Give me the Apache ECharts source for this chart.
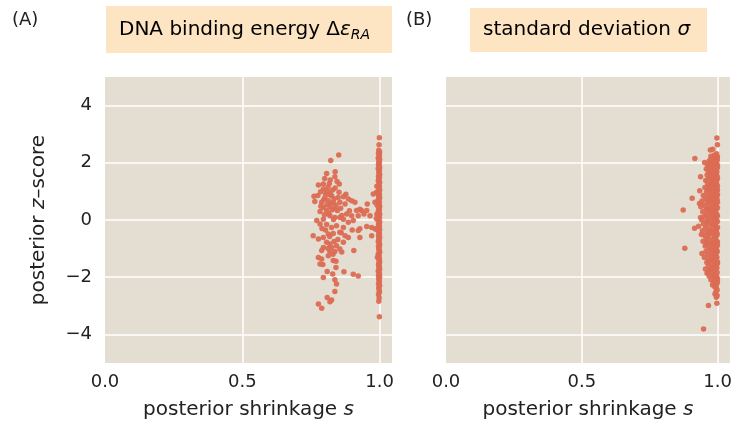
<!DOCTYPE html>
<html>
<head>
<meta charset="utf-8">
<script src="https://cdn.jsdelivr.net/npm/echarts@6/dist/echarts.min.js"></script>
<style>
  html, body { margin: 0; padding: 0; background: #fff; }
  #chart { width: 735px; height: 428px; }
</style>
</head>
<body>
<div id="chart"></div>
<script>
// panel A: points spread away from s = 1
const cloudA = [
  [0.851, 2.27], [0.822, 2.08], [0.807, 1.63], [0.838, 1.69], [0.837, 1.51], [0.853, 1.26],
  [0.777, 1.22], [0.795, 1.26], [0.817, 1.28], [0.795, 1.08], [0.785, 0.99], [0.761, 0.83],
  [0.764, 0.65], [0.807, 1.02], [0.819, 0.97], [0.825, 0.85], [0.801, 0.79], [0.813, 0.67],
  [0.831, 0.62], [0.789, 0.62], [0.795, 0.44], [0.819, 0.47], [0.837, 0.42], [0.807, 0.33],
  [0.783, 0.30], [0.849, 0.79], [0.868, 0.81], [0.855, 0.62], [0.874, 0.56], [0.886, 0.73],
  [0.898, 0.67], [0.910, 0.62], [0.928, 0.38], [0.916, 0.33], [0.934, 0.33], [0.953, 0.33],
  [0.965, 0.15], [0.955, 0.56], [0.989, 0.97], [0.977, 0.91], [0.983, 0.62], [0.943, 0.21],
  [0.922, 0.15], [0.898, 0.15], [0.880, 0.21], [0.868, 0.03], [0.855, 0.09], [0.837, 0.09],
  [0.819, 0.15], [0.795, 0.03], [0.771, -0.02], [0.783, -0.14], [0.807, -0.16], [0.825, -0.26],
  [0.843, -0.20], [0.868, -0.26], [0.886, -0.08], [0.904, -0.02], [0.928, -0.31], [0.922, -0.37],
  [0.953, -0.23], [0.971, -0.26], [0.983, -0.31], [0.758, -0.55], [0.777, -0.66], [0.795, -0.61],
  [0.813, -0.49], [0.831, -0.47], [0.855, -0.43], [0.874, -0.55], [0.886, -0.61], [0.971, -0.55],
  [0.928, -0.61], [0.807, -0.78], [0.819, -0.84], [0.843, -0.90], [0.868, -0.78], [0.825, -0.96],
  [0.795, -0.96], [0.789, -1.07], [0.819, -1.10], [0.837, -1.10], [0.855, -1.01], [0.906, -1.07],
  [0.862, -1.12], [0.777, -1.31], [0.789, -1.36], [0.813, -1.25], [0.783, -1.54], [0.793, -1.56],
  [0.831, -1.42], [0.841, -1.44], [0.841, -1.66], [0.809, -1.80], [0.829, -1.89], [0.870, -1.81],
  [0.904, -1.90], [0.922, -1.96], [0.795, -2.01], [0.837, -2.09], [0.843, -2.24], [0.837, -2.50],
  [0.809, -2.71], [0.825, -2.80], [0.819, -2.86], [0.777, -2.94], [0.789, -3.09],
  [0.812, 1.15], [0.829, 1.05], [0.803, 0.92], [0.818, 0.88], [0.834, 0.74], [0.796, 0.71],
  [0.822, 0.58], [0.808, 0.53], [0.841, 0.52], [0.827, 0.36], [0.815, 0.23], [0.799, 0.18],
  [0.832, 0.02], [0.846, 0.33], [0.858, 0.41], [0.786, 0.48], [0.775, 0.86], [0.852, 0.97],
  [0.838, 1.12], [0.862, 0.16], [0.803, -0.35], [0.818, -0.58], [0.848, -0.68], [0.834, -0.75],
  [0.790, -0.30], [0.860, -0.45], [0.877, 0.90], [0.890, 0.32], [0.900, -0.35], [0.820, 1.40],
  [0.800, 1.45], [0.845, 1.35], [0.830, -1.20], [0.812, -1.00]
];

// panel A: the strip of points sitting at s = 1
const stripA = [
  [0.999, 2.88], [0.998, 2.63], [0.997, 2.44], [1.0, 2.38], [0.996, 2.33], [0.999, 2.27],
  [0.998, 2.21], [0.995, 2.17], [1.0, 2.12], [0.997, 2.06], [0.999, 2.0], [0.996, 1.95],
  [0.998, 1.9], [1.0, 1.84], [0.995, 1.8], [0.999, 1.74], [0.997, 1.69], [0.998, 1.63],
  [1.0, 1.58], [0.996, 1.53], [0.999, 1.48], [0.997, 1.42], [0.995, 1.37], [1.0, 1.32],
  [0.998, 1.26], [0.996, 1.21], [0.999, 1.16], [0.997, 1.1], [1.0, 1.05], [0.995, 1.0],
  [0.998, 0.94], [0.999, 0.89], [0.996, 0.84], [1.0, 0.78], [0.997, 0.73], [0.994, 0.68],
  [0.999, 0.63], [0.998, 0.57], [0.996, 0.52], [1.0, 0.47], [0.997, 0.41], [0.999, 0.36],
  [0.995, 0.31], [0.998, 0.25], [1.0, 0.2], [0.996, 0.15], [0.999, 0.09], [0.997, 0.04],
  [0.994, -0.01], [1.0, -0.06], [0.998, -0.12], [0.996, -0.17], [0.999, -0.22], [0.997, -0.28],
  [1.0, -0.33], [0.995, -0.38], [0.998, -0.44], [0.999, -0.49], [0.996, -0.54], [1.0, -0.6],
  [0.997, -0.65], [0.998, -0.71], [0.995, -0.76], [0.999, -0.81], [1.0, -0.87], [0.996, -0.92],
  [0.998, -0.97], [0.997, -1.03], [0.999, -1.08], [1.0, -1.13], [0.995, -1.19], [0.998, -1.24],
  [0.996, -1.29], [0.999, -1.35], [0.997, -1.4], [1.0, -1.46], [0.998, -1.51], [0.996, -1.56],
  [0.999, -1.62], [0.997, -1.67], [1.0, -1.72], [0.995, -1.78], [0.998, -1.83], [0.999, -1.89],
  [0.996, -1.94], [1.0, -1.99], [0.997, -2.05], [0.998, -2.1], [0.999, -2.16], [0.996, -2.23],
  [1.0, -2.29], [0.997, -2.36], [0.998, -2.44], [0.999, -2.52], [0.996, -2.6], [0.998, -2.72],
  [0.997, -2.84], [0.999, -3.38],
  [0.990, 1.18], [0.991, 0.52], [0.989, -0.33], [0.992, -1.3], [0.990, 0.2], [0.988, 0.05]
];

// panel B: standard deviation, almost everything close to s = 1
const pointsB = [
  [0.997, 2.87], [0.999, 2.63], [0.973, 2.45], [0.982, 2.47], [0.916, 2.15], [0.952, 2.01],
  [0.973, 2.10], [0.937, 1.51], [0.934, 1.02], [0.906, 0.76], [0.873, 0.35], [0.933, 0.58],
  [0.915, -0.29], [0.937, 0.09], [0.940, -0.51], [0.879, -0.99], [0.942, -1.17], [0.964, -1.83],
  [0.981, -2.27], [0.990, -2.59], [0.997, -2.91], [0.966, -2.99], [0.948, -3.81], [0.995, -2.70],
  [0.998, -2.45],
  [0.996, 2.32], [0.988, 2.27], [0.999, 2.21], [0.984, 2.18], [0.975, 2.23],
  [0.993, 2.12], [0.969, 2.06], [0.986, 2.03], [0.998, 2.08],
  [0.979, 1.97], [0.962, 1.94], [0.994, 1.95], [0.987, 1.89],
  [0.971, 1.86], [0.999, 1.83], [0.958, 1.78], [0.982, 1.80], [0.992, 1.74],
  [0.966, 1.70], [0.977, 1.66], [0.997, 1.68], [0.986, 1.61],
  [0.961, 1.57], [0.973, 1.54], [0.995, 1.55], [0.984, 1.49], [0.999, 1.45],
  [0.967, 1.43], [0.956, 1.38], [0.989, 1.37], [0.978, 1.33],
  [0.996, 1.29], [0.963, 1.27], [0.985, 1.22], [0.972, 1.18], [0.999, 1.19],
  [0.953, 1.14], [0.991, 1.11], [0.968, 1.07], [0.980, 1.04],
  [0.997, 1.01], [0.959, 0.98], [0.987, 0.95], [0.974, 0.92], [0.999, 0.89],
  [0.947, 0.86], [0.965, 0.83], [0.983, 0.80], [0.993, 0.77],
  [0.955, 0.73], [0.976, 0.70], [0.998, 0.71], [0.942, 0.66], [0.988, 0.64],
  [0.962, 0.60], [0.971, 0.56], [0.995, 0.57], [0.950, 0.52], [0.983, 0.49],
  [0.938, 0.46], [0.966, 0.43], [0.999, 0.44], [0.978, 0.39], [0.957, 0.36],
  [0.990, 0.33], [0.945, 0.29], [0.970, 0.27], [0.985, 0.22], [0.997, 0.20],
  [0.960, 0.18], [0.951, 0.12], [0.979, 0.10], [0.993, 0.07], [0.968, 0.04],
  [0.941, 0.01], [0.987, -0.02], [0.958, -0.06], [0.999, -0.05], [0.975, -0.10],
  [0.948, -0.13], [0.964, -0.17], [0.991, -0.19], [0.982, -0.24], [0.930, -0.22],
  [0.955, -0.28], [0.996, -0.31], [0.971, -0.34], [0.944, -0.38], [0.986, -0.40],
  [0.962, -0.45], [0.978, -0.48], [0.998, -0.47], [0.952, -0.54], [0.989, -0.57],
  [0.967, -0.60], [0.958, -0.66], [0.981, -0.69], [0.995, -0.72], [0.946, -0.74],
  [0.973, -0.78], [0.963, -0.83], [0.987, -0.85], [0.999, -0.88], [0.954, -0.91],
  [0.978, -0.94], [0.968, -1.00], [0.992, -1.02], [0.983, -1.07], [0.957, -1.09],
  [0.997, -1.13], [0.974, -1.16], [0.962, -1.22], [0.988, -1.24], [0.979, -1.29],
  [0.951, -1.31], [0.994, -1.35], [0.969, -1.38], [0.984, -1.43], [0.999, -1.46],
  [0.960, -1.49], [0.976, -1.53], [0.990, -1.57], [0.966, -1.62], [0.983, -1.66],
  [0.997, -1.68], [0.955, -1.71], [0.972, -1.75], [0.988, -1.79], [0.961, -1.86],
  [0.980, -1.90], [0.994, -1.93], [0.969, -1.97], [0.986, -2.02], [0.999, -2.05],
  [0.975, -2.09], [0.991, -2.14], [0.984, -2.19], [0.997, -2.23], [0.989, -2.33],
  [0.995, -2.38], [0.993, -2.52], [0.998, -2.64],
  [0.998, 2.15], [0.995, 2.00], [0.999, 1.91], [0.993, 1.63], [0.998, 1.52], [0.996, 1.40],
  [0.992, 1.25], [0.999, 1.06], [0.994, 0.94], [0.997, 0.83], [0.991, 0.68], [0.999, 0.62],
  [0.994, 0.51], [0.996, 0.38], [0.992, 0.26], [0.999, 0.14], [0.995, 0.02], [0.993, -0.12],
  [0.999, -0.25], [0.994, -0.36], [0.997, -0.53], [0.992, -0.64], [0.999, -0.77], [0.995, -0.95],
  [0.998, -1.08], [0.993, -1.19], [0.997, -1.30], [0.999, -1.52], [0.994, -1.61], [0.998, -1.84],
  [0.996, -1.99], [0.999, -2.16], [0.993, -2.28],
  [0.981, 1.92], [0.978, 1.72], [0.983, 1.41], [0.976, 1.26], [0.981, 0.99], [0.979, 0.76],
  [0.984, 0.59], [0.981, 0.31], [0.977, 0.15], [0.983, -0.15], [0.980, -0.43], [0.984, -0.81],
  [0.978, -1.04], [0.982, -1.35], [0.979, -1.71], [0.985, -1.95],
  [0.966, 1.88], [0.969, 1.47], [0.964, 1.09], [0.967, 0.68], [0.961, 0.40], [0.963, -0.02],
  [0.967, -0.40], [0.959, -0.79], [0.965, -1.44], [0.970, -1.80]
];

const panelTitles = ['DNA binding energy', 'standard deviation'];
const panelTags = ['(A)', '(B)'];
const xTicks = [0, 0.5, 1.0];
const yTicks = [-4, -2, 0, 2, 4];

const font = 'DejaVu Sans';
const textColor = '#222';
const dotColor = '#dc6b54';
const plotBg = '#e4ddd1';
const boxBg = '#fde5c3';

function minus(v) {
  return v < 0 ? '\u2212' + Math.abs(v) : String(v);
}

function xAxisFor(idx) {
  return {
    gridIndex: idx,
    type: 'value',
    min: 0,
    max: 1.045,
    interval: 0.5,
    axisLine: { show: false },
    axisTick: { show: false },
    axisLabel: {
      fontFamily: font, fontSize: 18, color: textColor, margin: 10,
      showMaxLabel: false,
      formatter: v => (xTicks.indexOf(v) >= 0 ? v.toFixed(1) : '')
    },
    splitLine: {
      show: true, showMinLine: false, showMaxLine: false,
      lineStyle: { color: '#fff', width: 1.5 }
    },
    name: '{n|posterior shrinkage }{i|s}',
    nameLocation: 'middle',
    nameGap: 37,
    nameTextStyle: {
      rich: {
        n: { fontFamily: font, fontSize: 20, color: textColor },
        i: { fontFamily: font, fontSize: 20, color: textColor, fontStyle: 'italic' }
      }
    }
  };
}

function yAxisFor(idx, showLabels) {
  const ax = {
    gridIndex: idx,
    type: 'value',
    min: -5,
    max: 5,
    interval: 1,
    axisLine: { show: false },
    axisTick: { show: false },
    axisLabel: {
      show: showLabels,
      fontFamily: font, fontSize: 18, color: textColor, margin: 13,
      formatter: v => (yTicks.indexOf(v) >= 0 ? minus(v) : '')
    },
    splitLine: {
      show: true, showMinLine: false, showMaxLine: false,
      // only every second line (even values) is drawn
      lineStyle: { color: ['#ffffff', 'rgba(0,0,0,0)'], width: 1.5 }
    }
  };
  if (showLabels) {
    ax.name = '{n|posterior }{i|z}{n|\u2013score}';
    ax.nameLocation = 'middle';
    ax.nameGap = 56;
    ax.nameTextStyle = {
      rich: {
        n: { fontFamily: font, fontSize: 20, color: textColor },
        i: { fontFamily: font, fontSize: 20, color: textColor, fontStyle: 'italic' }
      }
    };
  }
  return ax;
}

const titleRich = {
  t: { fontFamily: font, fontSize: 20, color: textColor, lineHeight: 26 },
  e: { fontFamily: font, fontSize: 20, color: textColor, fontStyle: 'italic', lineHeight: 26 },
  s: { fontFamily: font, fontSize: 14, color: textColor, fontStyle: 'italic', lineHeight: 17, verticalAlign: 'bottom' }
};

const chart = echarts.init(document.getElementById('chart'), null, { renderer: 'canvas' });

chart.setOption({
  animation: false,
  backgroundColor: '#fff',
  grid: [
    { left: 105, top: 77, width: 287, height: 286, show: true, backgroundColor: plotBg, borderWidth: 0 },
    { left: 446, top: 77, width: 287, height: 286, show: true, backgroundColor: plotBg, borderWidth: 0 }
  ],
  xAxis: [xAxisFor(0), xAxisFor(1)],
  yAxis: [yAxisFor(0, true), yAxisFor(1, false)],
  series: [
    {
      type: 'scatter', xAxisIndex: 0, yAxisIndex: 0,
      data: cloudA.concat(stripA),
      symbolSize: 5.5,
      itemStyle: { color: dotColor, opacity: 0.95 }
    },
    {
      type: 'scatter', xAxisIndex: 1, yAxisIndex: 1,
      data: pointsB,
      symbolSize: 5.5,
      itemStyle: { color: dotColor, opacity: 0.95 }
    }
  ],
  graphic: [
    { type: 'rect', shape: { x: 106, y: 6, width: 286, height: 47 }, style: { fill: boxBg } },
    {
      type: 'text', x: 119, y: 29.5,
      style: {
        text: '{t|' + panelTitles[0] + ' \u0394}{e|\u03b5}{s|RA}',
        rich: titleRich, verticalAlign: 'middle'
      }
    },
    { type: 'rect', shape: { x: 470, y: 8, width: 237, height: 44 }, style: { fill: boxBg } },
    {
      type: 'text', x: 483, y: 30,
      style: {
        text: '{t|' + panelTitles[1] + ' }{e|\u03c3}',
        rich: titleRich, verticalAlign: 'middle'
      }
    },
    {
      type: 'text', x: 12, y: 20,
      style: { text: panelTags[0], fontFamily: font, fontSize: 18, fill: textColor, verticalAlign: 'middle' }
    },
    {
      type: 'text', x: 406, y: 20,
      style: { text: panelTags[1], fontFamily: font, fontSize: 18, fill: textColor, verticalAlign: 'middle' }
    }
  ]
});

window.addEventListener('resize', () => {
  chart.resize();
});
</script>
</body>
</html>
